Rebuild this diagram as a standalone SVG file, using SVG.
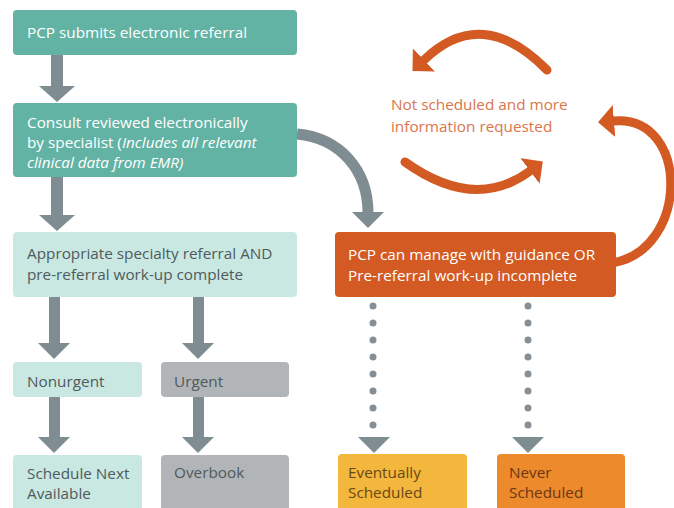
<svg xmlns="http://www.w3.org/2000/svg" width="674" height="508" viewBox="0 0 674 508">
<style>
text{font-family:"Open Sans","Noto Sans","Liberation Sans",sans-serif;font-size:15.3px}
.dk{fill:#63b3a5}
.lt{fill:#c9e8e2}
.gy{fill:#b1b5b8}
.or{fill:#d35a22}
.ye{fill:#f2b73c}
.ng{fill:#ec8a2c}
.tw{fill:#ffffff}
.td{fill:#4f5a5c}
.tb{fill:#6a4716}
.tn{fill:#6b3614}
.arr{fill:#7f8c92}
.oarc{fill:none;stroke:#d35a22;stroke-width:9;stroke-linecap:round}
.garc{fill:none;stroke:#7f8c92;stroke-width:11}
.dot{fill:#868f95}
</style>
<defs>
<marker id="oh" viewBox="0 0 16 32" refX="0" refY="16" markerWidth="16" markerHeight="32" markerUnits="userSpaceOnUse" orient="auto">
<path d="M0,0 L16,16 L0,32 z" fill="#d35a22"/>
</marker>
</defs>
<rect width="674" height="508" fill="#ffffff"/>
<g id="connectors">
<rect class="arr" x="51" y="55" width="12" height="32"/>
<polygon class="arr" points="39,86 75,86 57,102"/>
<rect class="arr" x="51" y="176" width="12" height="40"/>
<polygon class="arr" points="39,215 75,215 57,231"/>
<rect class="arr" x="49" y="296" width="11" height="48"/>
<polygon class="arr" points="38,343 70,343 54,359"/>
<rect class="arr" x="193" y="296" width="11" height="48"/>
<polygon class="arr" points="182,343 214,343 198,359"/>
<rect class="arr" x="49" y="397" width="11" height="41"/>
<polygon class="arr" points="38,437 70,437 54,453"/>
<rect class="arr" x="193" y="397" width="11" height="41"/>
<polygon class="arr" points="182,437 214,437 198,453"/>
<path class="garc" d="M297,134 C340,138 368,170 368,213"/>
<polygon class="arr" points="352,212 384,212 368,228"/>
<g class="dot">
<circle cx="373" cy="306" r="3.5"/><circle cx="373" cy="323" r="3.5"/><circle cx="373" cy="340" r="3.5"/><circle cx="373" cy="357" r="3.5"/><circle cx="373" cy="374" r="3.5"/><circle cx="373" cy="391" r="3.5"/><circle cx="373" cy="408" r="3.5"/><circle cx="373" cy="425" r="3.5"/>
<circle cx="528" cy="306" r="3.5"/><circle cx="528" cy="323" r="3.5"/><circle cx="528" cy="340" r="3.5"/><circle cx="528" cy="357" r="3.5"/><circle cx="528" cy="374" r="3.5"/><circle cx="528" cy="391" r="3.5"/><circle cx="528" cy="408" r="3.5"/><circle cx="528" cy="425" r="3.5"/>
</g>
<polygon class="arr" points="358,437 390,437 374,453"/>
<polygon class="arr" points="512,437 544,437 528,453"/>
<path class="oarc" d="M547,70 Q482,4 424,60" marker-end="url(#oh)"/>
<path class="oarc" d="M405,162 Q475,212 530,171" marker-end="url(#oh)"/>
<path class="oarc" d="M612,263 C690,250 690,115 614,121" marker-end="url(#oh)"/>
</g>
<g id="n1">
<rect class="dk" x="13" y="10" width="284" height="45" rx="4"/>
<text class="tw" x="27" y="38">PCP submits electronic referral</text>
</g>
<g id="n2">
<rect class="dk" x="13" y="103" width="284" height="74" rx="4"/>
<text class="tw" x="27" y="128">Consult reviewed electronically</text>
<text class="tw" x="27" y="148">by specialist (<tspan font-style="italic">Includes all relevant</tspan></text>
<text class="tw" x="27" y="168" font-style="italic">clinical data from EMR)</text>
</g>
<g id="n3">
<rect class="lt" x="13" y="232" width="284" height="65" rx="4"/>
<text class="td" x="27" y="259">Appropriate specialty referral AND</text>
<text class="td" x="27" y="280">pre-referral work-up complete</text>
</g>
<g id="n4">
<rect class="or" x="335" y="232" width="281" height="65" rx="4"/>
<text class="tw" x="348" y="260">PCP can manage with guidance OR</text>
<text class="tw" x="348" y="281">Pre-referral work-up incomplete</text>
</g>
<g id="n5">
<text x="391" y="110" fill="#d9764a">Not scheduled and more</text>
<text x="391" y="132" fill="#d9764a">information requested</text>
</g>
<g id="n6">
<rect class="lt" x="13" y="362" width="129" height="35" rx="4"/>
<text class="td" x="27" y="387">Nonurgent</text>
</g>
<g id="n7">
<rect class="gy" x="161" y="362" width="128" height="35" rx="4"/>
<text class="td" x="174" y="387">Urgent</text>
</g>
<g id="n8">
<rect class="lt" x="13" y="455" width="129" height="60" rx="4"/>
<text class="td" x="27" y="479">Schedule Next</text>
<text class="td" x="27" y="499">Available</text>
</g>
<g id="n9">
<rect class="gy" x="161" y="455" width="128" height="60" rx="4"/>
<text class="td" x="174" y="478">Overbook</text>
</g>
<g id="n10">
<rect class="ye" x="338" y="454" width="129" height="61" rx="4"/>
<text class="tb" x="348" y="478">Eventually</text>
<text class="tb" x="348" y="498">Scheduled</text>
</g>
<g id="n11">
<rect class="ng" x="497" y="454" width="128" height="61" rx="4"/>
<text class="tn" x="509" y="478">Never</text>
<text class="tn" x="509" y="498">Scheduled</text>
</g>
</svg>
